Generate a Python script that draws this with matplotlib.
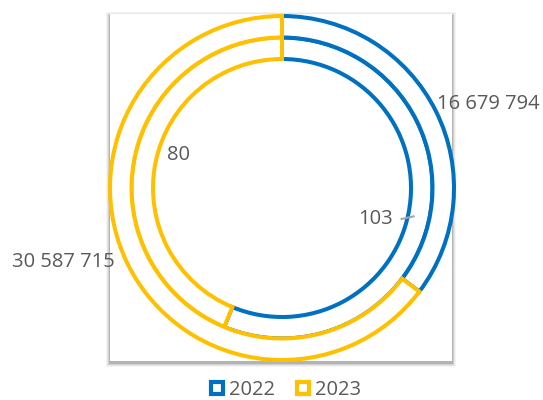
"""
Doughnut chart: 2022 vs 2023, two rings drawn as outlines.
"""
import matplotlib.pyplot as plt
from matplotlib.lines import Line2D
from matplotlib.patches import Rectangle

# Data
years = ['2022', '2023']
inner_values = [103, 80]
outer_values = [16679794, 30587715]
colors = ['#0070C0', '#FFC000']

W, H = 543, 400
fig = plt.figure(figsize=(W / 100, H / 100), dpi=100)
fig.patch.set_facecolor('white')

# Background axes in pixel coords (top-left origin) for the plot-area box
bg = fig.add_axes([0, 0, 1, 1], zorder=-1)
bg.set_xlim(0, W)
bg.set_ylim(H, 0)
bg.axis('off')
box_l, box_r, box_t, box_b = 110, 452, 14, 361
for k, a in enumerate([0.04, 0.06, 0.09, 0.14]):
    g = 4 - k
    bg.add_patch(Rectangle((box_l - g, box_t - g + 2), box_r - box_l + 2 * g,
                           box_b - box_t + 2 * g, facecolor='black', alpha=a,
                           edgecolor='none'))
bg.add_patch(Rectangle((box_l, box_t), box_r - box_l, box_b - box_t,
                       facecolor='white', edgecolor='none'))

# Doughnut axes: centre (282, 188) px, outer radius 172 px
cx, cy, R = 282, 188, 172
m = 1.3
ax = fig.add_axes([(cx - R * m) / W, 1 - (cy + R * m) / H, 2 * R * m / W, 2 * R * m / H])
ax.set_facecolor('none')

ring_w = 0.125
lw = 2.9
# inner ring first (series 1), then outer ring
for vals, radius in [(inner_values, 1 - ring_w), (outer_values, 1.0)]:
    wedges, _ = ax.pie(vals, radius=radius, startangle=90, counterclock=False,
                       wedgeprops=dict(width=ring_w, facecolor='white', linewidth=lw))
    for w, c in zip(wedges, colors):
        w.set_edgecolor(c)
    # draw 2023 outline over 2022
    wedges[1].set_zorder(wedges[0].get_zorder() + 0.1)

ax.set_xlim(-m, m)
ax.set_ylim(-m, m)
ax.set_aspect('equal')
ax.axis('off')

# Data labels (positions in ring units)
label_color = '#595959'
font = ['Open Sans', 'DejaVu Sans']
label_pos = {
    'outer0': (1.20, 0.49),
    'outer1': (-1.27, -0.43),
    'inner0': (0.545, -0.18),
    'inner1': (-0.60, 0.19),
}
def fmt(v):
    return f'{v:,}'.replace(',', ' ')

for i, v in enumerate(outer_values):
    x, y = label_pos[f'outer{i}']
    ax.text(x, y, fmt(v), ha='center', va='center', fontsize=14.5,
            color=label_color, family=font)
for i, v in enumerate(inner_values):
    x, y = label_pos[f'inner{i}']
    ax.text(x, y, fmt(v), ha='center', va='center', fontsize=14.5,
            color=label_color, family=font)
# leader line for the "103" label
ax.plot([0.695, 0.765], [-0.18, -0.165], color='#A6A6A6', lw=1.5)

# Legend
handles = [Line2D([], [], marker='s', linestyle='none', markersize=9,
                  markerfacecolor='white', markeredgecolor=c, markeredgewidth=3)
           for c in colors]
fig.legend(handles, years, loc='center', bbox_to_anchor=(284 / W, 1 - 390 / H),
           ncol=2, frameon=False, handletextpad=0.1, columnspacing=0.9,
           handlelength=1.0, prop={'family': font, 'size': 14.5},
           labelcolor=label_color)

fig.savefig('out.png', dpi=100, facecolor='white')
